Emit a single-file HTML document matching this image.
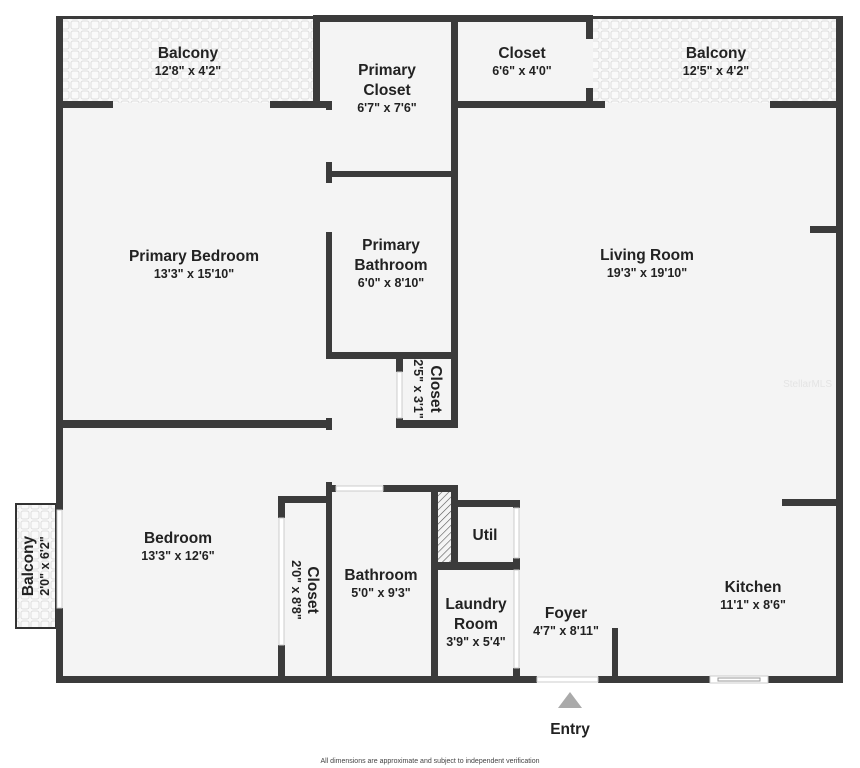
<!DOCTYPE html>
<html><head><meta charset="utf-8">
<style>
html,body{margin:0;padding:0;background:#fff;}
svg{display:block;}
text{font-family:"Liberation Sans","DejaVu Sans",sans-serif;fill:#222;text-anchor:middle;}
.n{font-size:15.5px;font-weight:bold;}
.d{font-size:12.5px;font-weight:bold;}
</style></head><body>
<svg width="860" height="768" viewBox="0 0 860 768" xmlns="http://www.w3.org/2000/svg">
<defs>
<pattern id="tile" width="10" height="10" patternUnits="userSpaceOnUse">
<rect width="10" height="10" fill="#fafafa"/>
<rect x="1" y="1" width="8" height="8" rx="2" fill="none" stroke="#dedede" stroke-width="1"/>
</pattern>
<pattern id="hatch" width="5" height="5" patternUnits="userSpaceOnUse" patternTransform="rotate(45)">
<rect width="5" height="5" fill="#f4f4f4"/><line x1="0" y1="0" x2="0" y2="5" stroke="#555" stroke-width="1.2"/>
</pattern>
</defs>
<rect x="60" y="20" width="780" height="660" fill="#f4f4f4"/>
<rect x="62" y="19" width="252" height="84" fill="url(#tile)"/>
<rect x="593" y="19" width="244" height="84" fill="url(#tile)"/>
<rect x="16" y="504" width="40" height="124" fill="url(#tile)" stroke="#333" stroke-width="2"/>
<rect x="438" y="492" width="13" height="71" fill="url(#hatch)"/>
<g fill="#3b3b3b">
<rect x="56" y="17" width="7" height="493"/>
<rect x="56" y="608" width="7" height="75"/>
<rect x="56" y="16" width="259" height="3"/>
<rect x="592" y="16" width="251" height="3"/>
<rect x="836" y="16" width="7" height="667"/>
<rect x="56" y="676" width="481" height="7"/>
<rect x="598" y="676" width="112" height="7"/>
<rect x="768" y="676" width="75" height="7"/>
<rect x="56" y="101" width="57" height="7"/>
<rect x="270" y="101" width="62" height="7"/>
<rect x="586" y="101" width="19" height="7"/>
<rect x="770" y="101" width="73" height="7"/>
<rect x="313" y="15" width="280" height="7"/>
<rect x="313" y="15" width="7" height="93"/>
<rect x="451" y="15" width="7" height="344"/>
<rect x="451" y="101" width="140" height="7"/>
<rect x="586" y="15" width="7" height="24"/>
<rect x="586" y="88" width="7" height="20"/>
<rect x="326" y="171" width="132" height="6"/>
<rect x="326" y="352" width="132" height="7"/>
<rect x="326" y="101" width="6" height="9"/>
<rect x="326" y="162" width="6" height="21"/>
<rect x="326" y="232" width="6" height="127"/>
<rect x="326" y="418" width="6" height="12"/>
<rect x="326" y="482" width="6" height="201"/>
<rect x="396" y="355" width="7" height="17"/>
<rect x="396" y="418" width="7" height="10"/>
<rect x="396" y="420" width="62" height="8"/>
<rect x="451" y="355" width="7" height="73"/>
<rect x="56" y="420" width="276" height="8"/>
<rect x="810" y="226" width="33" height="7"/>
<rect x="782" y="499" width="61" height="7"/>
<rect x="612" y="628" width="6" height="55"/>
<rect x="278" y="496" width="54" height="7"/>
<rect x="278" y="496" width="7" height="22"/>
<rect x="278" y="645" width="7" height="38"/>
<rect x="326" y="485" width="10" height="7"/>
<rect x="383" y="485" width="75" height="7"/>
<rect x="431" y="485" width="7" height="198"/>
<rect x="451" y="485" width="7" height="85"/>
<rect x="451" y="500" width="69" height="7"/>
<rect x="513" y="500" width="7" height="8"/>
<rect x="513" y="558" width="7" height="12"/>
<rect x="431" y="562" width="89" height="8"/>
<rect x="513" y="668" width="7" height="15"/>
</g>
<g fill="#fff" stroke="#ccc" stroke-width="1">
<rect x="336" y="486" width="47" height="5"/>
<rect x="514" y="508" width="5" height="50"/>
<rect x="514" y="570" width="5" height="98"/>
<rect x="537" y="677" width="61" height="5"/>
<rect x="710" y="676" width="58" height="7"/>
<rect x="279" y="518" width="5" height="127"/>
<rect x="397" y="372" width="5" height="46"/>
<rect x="57" y="510" width="5" height="98"/>
</g>
<rect x="718" y="678" width="42" height="3" fill="none" stroke="#999" stroke-width="1"/>
<polygon points="558,708 582,708 570,692" fill="#aaa"/>
<text class="n" x="188" y="58">Balcony</text><text class="d" x="188" y="75">12'8" x 4'2"</text>
<text class="n" x="387" y="75">Primary</text><text class="n" x="387" y="95">Closet</text><text class="d" x="387" y="112">6'7" x 7'6"</text>
<text class="n" x="522" y="58">Closet</text><text class="d" x="522" y="75">6'6" x 4'0"</text>
<text class="n" x="716" y="58">Balcony</text><text class="d" x="716" y="75">12'5" x 4'2"</text>
<text class="n" x="194" y="261">Primary Bedroom</text><text class="d" x="194" y="278">13'3" x 15'10"</text>
<text class="n" x="391" y="250">Primary</text><text class="n" x="391" y="270">Bathroom</text><text class="d" x="391" y="287">6'0" x 8'10"</text>
<text class="n" x="647" y="260">Living Room</text><text class="d" x="647" y="277">19'3" x 19'10"</text>
<text class="n" transform="translate(431,389) rotate(90)">Closet</text>
<text class="d" transform="translate(414,389) rotate(90)">2'5" x 3'1"</text>
<text class="n" x="178" y="543">Bedroom</text><text class="d" x="178" y="560">13'3" x 12'6"</text>
<text class="n" transform="translate(33,566) rotate(-90)">Balcony</text>
<text class="d" transform="translate(49,566) rotate(-90)">2'0" x 6'2"</text>
<text class="n" transform="translate(308,590) rotate(90)">Closet</text>
<text class="d" transform="translate(292,590) rotate(90)">2'0" x 8'8"</text>
<text class="n" x="381" y="580">Bathroom</text><text class="d" x="381" y="597">5'0" x 9'3"</text>
<text class="n" x="485" y="540">Util</text>
<text class="n" x="476" y="609">Laundry</text><text class="n" x="476" y="629">Room</text><text class="d" x="476" y="646">3'9" x 5'4"</text>
<text class="n" x="566" y="618">Foyer</text><text class="d" x="566" y="635">4'7" x 8'11"</text>
<text class="n" x="753" y="592">Kitchen</text><text class="d" x="753" y="609">11'1" x 8'6"</text>
<text class="n" x="570" y="734">Entry</text>
<text x="430" y="763" style="font-size:7px;fill:#444">All dimensions are approximate and subject to independent verification</text>
<text x="832" y="387" style="font-size:10px;fill:#e4e4e4;text-anchor:end">StellarMLS</text>
</svg>
</body></html>
